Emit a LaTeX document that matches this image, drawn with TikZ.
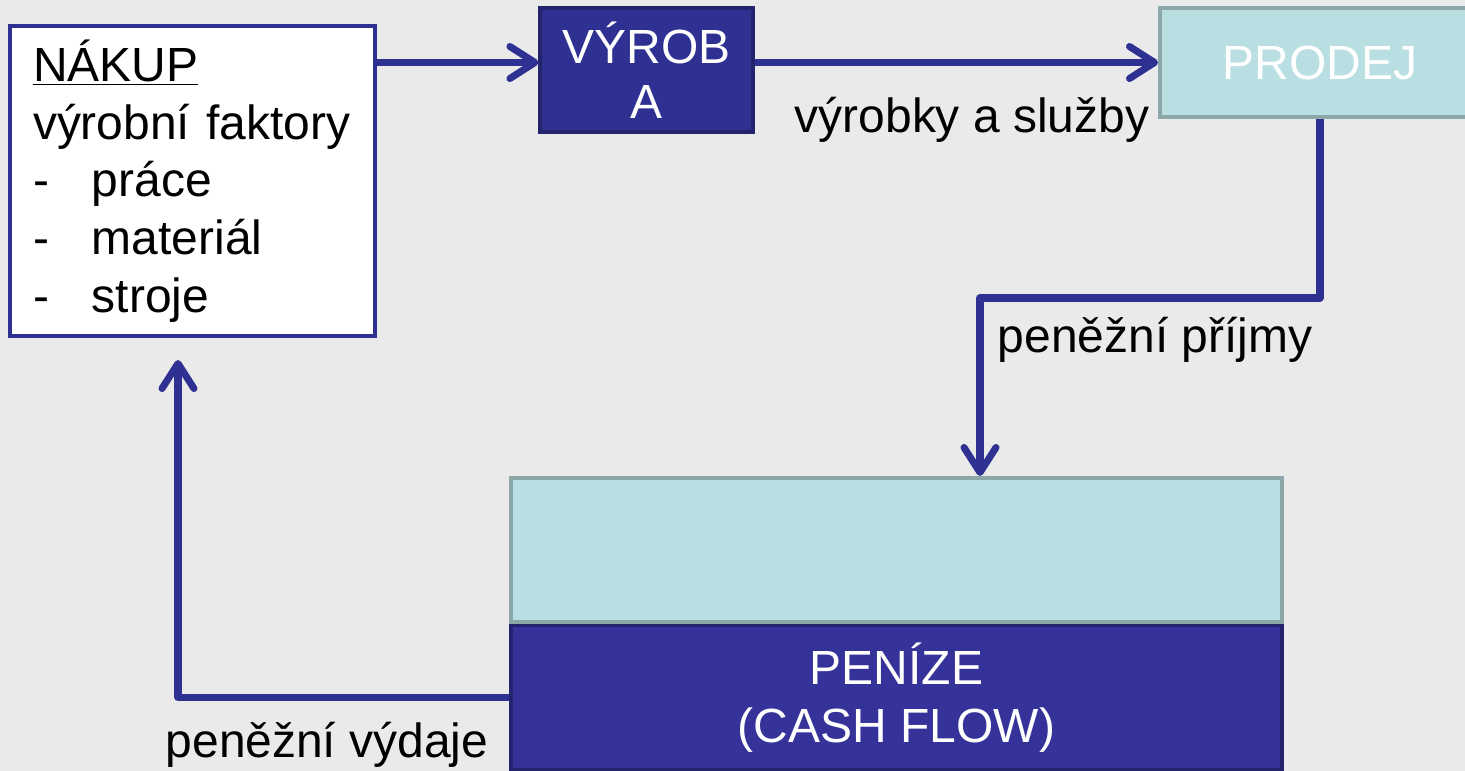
\documentclass[tikz,border=0pt]{standalone}
\usepackage{fontspec}
\setmainfont{Liberation Sans}
\usetikzlibrary{positioning, arrows.meta, calc}

\definecolor{bgcol}{HTML}{EAEAEA}
\definecolor{navy}{HTML}{2E3192}
\definecolor{navyline}{HTML}{24236E}
\definecolor{cashnavy}{HTML}{353399}
\definecolor{paleteal}{HTML}{B9DFE2}
\definecolor{tealline}{HTML}{8CA7A8}

\begin{document}
\begin{tikzpicture}[
        x=0.02cm, y=-0.02cm,
        % Define styles for the boxes and flows
        base/.style={rectangle, inner sep=0pt, font=\fontsize{27.3}{32.8}\selectfont},
        whitebox/.style={base, draw=navy, line width=2.5pt, fill=white},
        darkbox/.style={base, draw=navyline, line width=1.8pt, fill=navy, text=white, align=center},
        palebox/.style={base, draw=tealline, line width=2.3pt, fill=paleteal, text=white, align=center},
        flowlabel/.style={base, text=black},
        flow/.style={draw=navy, line width=4pt, line join=round,
            -{Straight Barb[length=0.5cm, width=0.64cm, round]}}
    ]
        % background and page size
        \fill[bgcol] (0,0) rectangle (1465,771);
        \useasboundingbox (0,0) rectangle (1465,771);

        % --------------------------------------------------------
        % TOP ROW: purchase, production, sale
        % --------------------------------------------------------
        \node[whitebox, minimum width=7.3cm, minimum height=6.2cm,
              text width=6.38cm, align=left] (nakup) at (192.5,181)
            {\underline{NÁKUP}\\
             výrobní faktory\\
             \makebox[1.18cm][l]{-}práce\\
             \makebox[1.18cm][l]{-}materiál\\
             \makebox[1.18cm][l]{-}stroje};
        \node[darkbox, minimum width=4.26cm, minimum height=2.48cm,
              font=\fontsize{27.3}{31.3}\selectfont] (vyroba) at (646.5,70) {VÝROB\\A};
        \node[palebox, minimum width=6.4cm, minimum height=2.18cm] (prodej) at (1320,62.5) {PRODEJ};

        \draw[flow] (nakup.east |- prodej) -- (vyroba.west |- prodej);
        \draw[flow] (vyroba.east |- prodej) -- (prodej.west);
        \node[flowlabel] (vyrobky) at (972,120) {výrobky a služby};

        % --------------------------------------------------------
        % BOTTOM: money (cash flow)
        % --------------------------------------------------------
        \node[palebox, minimum width=15.42cm, minimum height=2.88cm] (reserve) at (896.5,550) {};
        \node[darkbox, fill=cashnavy, minimum width=15.42cm, minimum height=2.88cm,
              font=\fontsize{27.3}{32.6}\selectfont, below=0pt of reserve] (penize)
            {PENÍZE\\(CASH FLOW)};

        % Money in
        \coordinate (inbend) at (980,298);
        \draw[flow] (prodej.south) |- (inbend) -- (inbend |- reserve.north);
        \node[flowlabel] (prijmy) at (1155,340) {peněžní příjmy};

        % Money out
        \coordinate (outend) at (178,360);
        \draw[flow] (penize.west) -| (outend);
        \node[flowlabel] (vydaje) at (327,745) {peněžní výdaje};

    \end{tikzpicture}
\end{document}
